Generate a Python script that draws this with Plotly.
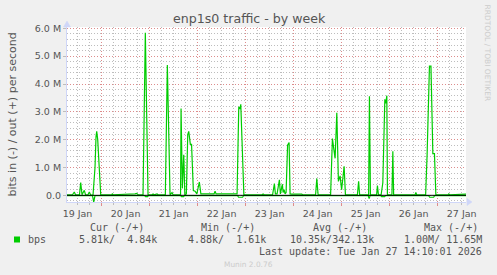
import plotly.graph_objects as go

# ---------------- data (values in Mbit/s) ----------------
out_times = [
    "2026-01-19 06:45", "2026-01-19 09:30", "2026-01-19 10:24", "2026-01-19 11:00",
    "2026-01-19 13:00", "2026-01-19 13:36", "2026-01-19 14:15", "2026-01-19 15:24",
    "2026-01-19 16:00", "2026-01-19 17:15", "2026-01-19 17:54", "2026-01-19 18:30",
    "2026-01-19 19:45", "2026-01-19 20:45", "2026-01-19 21:15", "2026-01-19 21:36",
    "2026-01-19 22:06", "2026-01-19 22:36", "2026-01-19 23:36",
    "2026-01-20 05:15", "2026-01-20 05:24", "2026-01-20 05:45", "2026-01-20 12:06",
    "2026-01-20 16:45", "2026-01-20 17:36", "2026-01-20 18:15", "2026-01-20 20:45",
    "2026-01-20 21:54", "2026-01-20 23:15",
    "2026-01-21 01:15", "2026-01-21 01:45", "2026-01-21 02:15", "2026-01-21 03:45",
    "2026-01-21 04:15", "2026-01-21 07:54", "2026-01-21 08:54", "2026-01-21 10:15",
    "2026-01-21 11:15", "2026-01-21 11:45", "2026-01-21 15:30", "2026-01-21 15:45",
    "2026-01-21 16:24", "2026-01-21 17:06", "2026-01-21 17:39", "2026-01-21 18:24",
    "2026-01-21 19:06", "2026-01-21 19:36", "2026-01-21 20:24", "2026-01-21 21:00",
    "2026-01-21 21:54", "2026-01-21 22:45", "2026-01-21 23:39",
    "2026-01-22 00:54", "2026-01-22 01:39", "2026-01-22 08:15", "2026-01-22 08:45",
    "2026-01-22 09:15", "2026-01-22 19:45", "2026-01-22 20:36", "2026-01-22 21:15",
    "2026-01-22 21:36", "2026-01-22 22:15", "2026-01-22 23:09",
    "2026-01-23 08:15", "2026-01-23 08:45", "2026-01-23 09:15", "2026-01-23 13:30",
    "2026-01-23 14:24", "2026-01-23 14:54", "2026-01-23 15:45", "2026-01-23 16:54",
    "2026-01-23 17:24", "2026-01-23 18:24", "2026-01-23 18:45", "2026-01-23 19:15",
    "2026-01-23 19:45", "2026-01-23 20:15", "2026-01-23 21:00", "2026-01-23 21:24",
    "2026-01-23 21:45", "2026-01-23 22:15", "2026-01-23 23:06",
    "2026-01-24 04:06", "2026-01-24 04:30", "2026-01-24 11:00", "2026-01-24 11:36",
    "2026-01-24 12:15", "2026-01-24 18:30", "2026-01-24 19:24", "2026-01-24 20:45",
    "2026-01-24 21:36", "2026-01-24 22:24", "2026-01-24 23:15",
    "2026-01-25 00:00", "2026-01-25 01:15", "2026-01-25 01:54", "2026-01-25 07:54",
    "2026-01-25 08:30", "2026-01-25 09:00", "2026-01-25 13:30", "2026-01-25 13:54",
    "2026-01-25 14:24", "2026-01-25 17:30", "2026-01-25 17:54", "2026-01-25 18:24",
    "2026-01-25 19:45", "2026-01-25 20:36", "2026-01-25 21:36", "2026-01-25 22:03",
    "2026-01-25 22:36", "2026-01-25 22:54",
    "2026-01-26 01:09", "2026-01-26 01:36", "2026-01-26 02:00", "2026-01-26 12:45",
    "2026-01-26 13:06", "2026-01-26 13:30", "2026-01-26 18:00", "2026-01-26 18:45",
    "2026-01-26 19:54", "2026-01-26 20:39", "2026-01-26 21:36", "2026-01-26 22:24",
    "2026-01-26 23:06",
    "2026-01-27 05:15", "2026-01-27 05:33", "2026-01-27 06:00", "2026-01-27 08:15",
    "2026-01-27 08:45", "2026-01-27 14:10",
]
out_mbps = [
    0.02, 0.02, 0.12, 0.02,
    0.02, 0.46, 0.02, 0.18,
    0.02, 0.02, 0.12, 0.02,
    0.00, 1.00, 2.10, 2.30,
    2.00, 1.38, 0.02,
    0.02, 0.06, 0.02, 0.03,
    0.05, 0.07, 0.02, 0.02,
    5.84, 0.02,
    0.02, 0.05, 0.02, 0.05,
    0.02, 0.02, 4.68, 0.02,
    0.10, 0.02, 0.02, 3.12,
    0.25, 1.46, 0.02, 0.05,
    2.18, 2.30, 1.83, 1.83,
    0.17, 0.15, 0.05,
    0.48, 0.05, 0.05, 0.15,
    0.05, 0.05, 3.18, 3.10,
    3.27, 2.00, 0.02,
    0.02, 0.05, 0.02, 0.02,
    0.42, 0.05, 0.05, 0.56,
    0.05, 0.40, 0.10, 0.20,
    0.05, 0.10, 1.80, 1.86,
    1.90, 0.05, 0.04,
    0.04, 0.02, 0.02, 0.60,
    0.02, 0.02, 2.04, 1.33,
    2.97, 0.50, 0.70,
    0.20, 1.04, 0.02, 0.02,
    0.50, 0.02, 0.02, 3.56,
    0.02, 0.02, 0.35, 0.02,
    0.02, 0.45, 3.45, 3.30,
    3.58, 0.02,
    0.02, 1.58, 0.02, 0.02,
    0.10, 0.02, 0.02, 1.50,
    4.64, 4.64, 1.50, 1.50,
    0.02,
    0.02, 0.05, 0.02, 0.02,
    0.04, 0.04,
]

in_times = [
    "2026-01-19 06:45", "2026-01-19 19:30", "2026-01-19 20:06", "2026-01-19 20:45",
    "2026-01-20 21:30", "2026-01-20 22:00", "2026-01-20 23:00", "2026-01-20 23:30",
    "2026-01-21 15:30", "2026-01-21 16:00", "2026-01-21 17:00", "2026-01-21 17:30",
    "2026-01-22 20:00", "2026-01-22 20:30", "2026-01-22 22:30", "2026-01-22 23:00",
    "2026-01-25 13:15", "2026-01-25 13:45", "2026-01-25 14:15",
    "2026-01-25 19:30", "2026-01-25 20:00", "2026-01-25 21:30", "2026-01-25 22:00",
    "2026-01-26 19:30", "2026-01-26 20:00", "2026-01-26 22:00", "2026-01-26 22:30",
    "2026-01-27 14:10",
]
in_mbps = [
    -0.01, -0.01, -0.24, -0.01,
    -0.01, -0.05, -0.05, -0.01,
    -0.01, -0.05, -0.05, -0.01,
    -0.01, -0.07, -0.07, -0.01,
    -0.01, -0.12, -0.01,
    -0.01, -0.05, -0.05, -0.01,
    -0.01, -0.07, -0.07, -0.01,
    -0.01,
]

y_tickvals = [0, 1, 2, 3, 4, 5, 6]
y_ticktext = ["0.0", "1.0 M", "2.0 M", "3.0 M", "4.0 M", "5.0 M", "6.0 M"]

title_text = "enp1s0 traffic - by week"
ytitle_text = "bits in (-) / out (+) per second"
legend_headers = ["Cur (-/+)", "Min (-/+)", "Avg (-/+)", "Max (-/+)"]
legend_values = ["5.81k/\u00a0\u00a04.84k", "4.88k/\u00a0\u00a01.61k",
                 "10.35k/342.13k", "1.00M/\u00a011.65M"]
last_update = "Last update: Tue Jan 27 14:10:01 2026"

# ---------------- layout geometry ----------------
W, H = 497, 275
L, R, T, B = 67, 31, 27, 73
PW, PH = W - L - R, H - T - B


def px(x):
    return (x - L) / PW


def py(y):
    return (H - B - y) / PH


GREEN = "#00CC00"
FONT = "#555555"
AXIS = "#CFD6F8"
MINOR = "#bdbdbd"
MAJOR = "#dd8c8c"
DASH = "1px,2px"

fig = go.Figure()
fig.add_trace(go.Scatter(x=in_times, y=in_mbps, mode="lines",
                         line=dict(color=GREEN, width=1.2), hoverinfo="skip"))
fig.add_trace(go.Scatter(x=out_times, y=out_mbps, mode="lines",
                         line=dict(color=GREEN, width=1.2), hoverinfo="skip"))

fig.update_layout(
    width=W, height=H,
    margin=dict(l=L, r=R, t=T, b=B, pad=0),
    paper_bgcolor="#F0F0F0", plot_bgcolor="#FFFFFF",
    showlegend=False,
    font=dict(family="DejaVu Sans", size=9.5, color=FONT),
)
fig.update_xaxes(
    type="date",
    range=["2026-01-19 06:45", "2026-01-27 14:10"],
    tick0="2026-01-19", dtick=86400000, tickformat="%d %b",
    ticklabelmode="period",
    showgrid=True, gridcolor=MAJOR, griddash=DASH, gridwidth=1,
    minor=dict(dtick=6 * 3600000, tick0="2026-01-19", showgrid=True,
               gridcolor=MINOR, griddash=DASH, ticks="outside",
               ticklen=2, tickcolor=MINOR),
    ticks="outside", ticklen=3, tickcolor=MAJOR,
    showline=True, linecolor=AXIS, linewidth=1,
    zeroline=False, fixedrange=True,
    tickfont=dict(size=9.5, color=FONT),
)
fig.update_yaxes(
    range=[-0.24, 6.048],
    tickmode="array", tickvals=y_tickvals, ticktext=y_ticktext,
    showgrid=True, gridcolor=MAJOR, griddash=DASH, gridwidth=1,
    minor=dict(tickmode="linear", dtick=0.2, tick0=0, showgrid=True,
               gridcolor=MINOR, griddash=DASH),
    ticks="outside", ticklen=3, tickcolor=MINOR,
    showline=True, linecolor=AXIS, linewidth=1,
    zeroline=False, fixedrange=True,
    tickfont=dict(size=9.5, color=FONT),
)

shapes = [
    # zero line
    dict(type="line", xref="paper", yref="y", x0=0, x1=1, y0=0, y1=0,
         line=dict(color="#000000", width=1), layer="above"),
    # axis arrows
    dict(type="path", xref="paper", yref="paper",
         path=f"M {px(467)} {py(198.5)} L {px(472)} {py(202)} L {px(467)} {py(205.5)} Z",
         fillcolor=AXIS, line=dict(color=AXIS, width=0.5), layer="above"),
    dict(type="path", xref="paper", yref="paper",
         path=f"M {px(63.5)} {py(27)} L {px(67)} {py(21)} L {px(70.5)} {py(27)} Z",
         fillcolor=AXIS, line=dict(color=AXIS, width=0.5), layer="above"),
    # legend swatch
    dict(type="rect", xref="paper", yref="paper",
         x0=px(14), x1=px(20), y0=py(242.5), y1=py(236.5),
         fillcolor=GREEN, line=dict(width=0)),
]
fig.update_layout(shapes=shapes)

ann = []
ann.append(dict(text=title_text, x=px(249), y=py(19), xref="paper", yref="paper",
                showarrow=False, xanchor="center", yanchor="middle",
                font=dict(family="DejaVu Sans", size=12.6, color=FONT)))
ann.append(dict(text=ytitle_text, x=px(12), y=py(114.5), xref="paper", yref="paper",
                showarrow=False, xanchor="center", yanchor="middle", textangle=-90,
                font=dict(family="DejaVu Sans", size=11, color=FONT)))
ann.append(dict(text="RRDTOOL / TOBI OETIKER", x=px(487.5), y=py(53), xref="paper",
                yref="paper", showarrow=False, xanchor="center", yanchor="middle",
                textangle=90, font=dict(family="DejaVu Sans", size=7.5, color="#cccccc")))
ann.append(dict(text="Munin 2.0.76", x=px(248), y=py(264.5), xref="paper", yref="paper",
                showarrow=False, xanchor="center", yanchor="middle",
                font=dict(family="DejaVu Sans", size=7.4, color="#cccccc")))

MONO = dict(family="DejaVu Sans Mono", size=10, color=FONT)
header_x = [89.3, 200.3, 311.7, 422.7]
for hx, txt in zip(header_x, legend_headers):
    ann.append(dict(text=txt.replace(" ", "\u00a0"), x=px(hx), y=py(227.7),
                    xref="paper", yref="paper", showarrow=False,
                    xanchor="left", yanchor="middle", font=MONO))
ann.append(dict(text="bps", x=px(26.7), y=py(239.3), xref="paper", yref="paper",
                showarrow=False, xanchor="left", yanchor="middle", font=MONO))
value_x = [78.3, 186.7, 289.0, 403.3]
for vx, txt in zip(value_x, legend_values):
    ann.append(dict(text=txt, x=px(vx), y=py(239.3), xref="paper", yref="paper",
                    showarrow=False, xanchor="left", yanchor="middle", font=MONO))
ann.append(dict(text=last_update.replace(" ", "\u00a0"), x=px(482.7), y=py(251),
                xref="paper", yref="paper", showarrow=False,
                xanchor="right", yanchor="middle", font=MONO))
for a in ann:
    a["borderpad"] = 0
fig.update_layout(annotations=ann)

fig.write_html("out.html", config={"displayModeBar": False})
